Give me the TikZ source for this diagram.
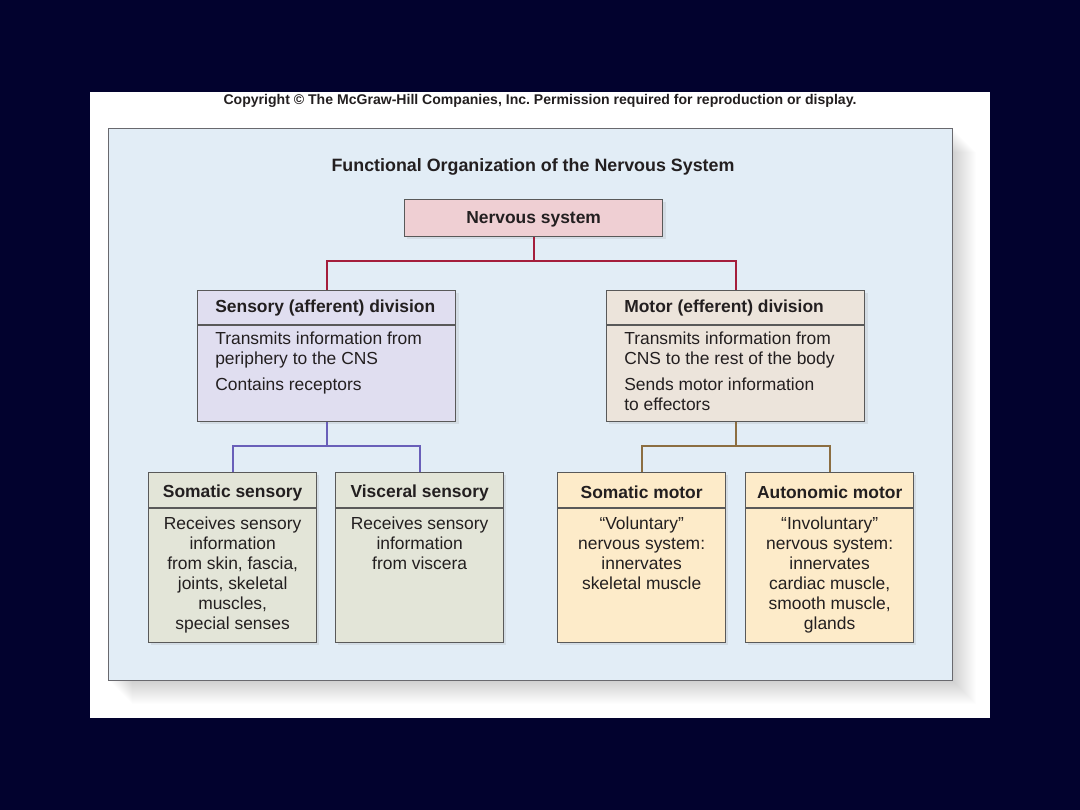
\documentclass[tikz,border=0pt]{standalone}
\usepackage{fontspec}
\setmainfont{Liberation Sans}
\usetikzlibrary{calc,positioning,shadows}
\definecolor{navybg}{RGB}{2,2,46}
\definecolor{panelblue}{RGB}{226,237,246}
\definecolor{framegray}{RGB}{105,105,110}
\definecolor{nervpink}{RGB}{239,207,211}
\definecolor{senslav}{RGB}{224,222,240}
\definecolor{motbeige}{RGB}{236,228,219}
\definecolor{sensgreen}{RGB}{227,229,216}
\definecolor{motcream}{RGB}{253,235,201}
\definecolor{linered}{RGB}{164,30,60}
\definecolor{lineblue}{RGB}{105,95,185}
\definecolor{linebrown}{RGB}{140,110,65}
\definecolor{inkgray}{RGB}{35,31,32}
\tikzset{
  caja/.style={
    rectangle,
    draw=black!65,
    line width=.9pt,
    anchor=north west,
    inner sep=0pt,
    drop shadow={shadow xshift=2pt, shadow yshift=-2pt, opacity=.15}
  },
  grande/.style={
    caja,
    minimum width=6.45cm,
    minimum height=3.275cm
  },
  chica/.style={
    caja,
    minimum width=4.2cm,
    minimum height=4.25cm
  },
  titulo/.style={
    font=\fontsize{12.4}{14.2}\selectfont\bfseries,
    text=inkgray,
    inner sep=0pt
  },
  texto/.style={
    font=\fontsize{12.4}{14.2}\selectfont,
    text=inkgray,
    inner sep=0pt
  },
  rama/.style={
    line width=1.2pt
  },
  separa/.style={
    draw=black!65,
    line width=.9pt
  }
}

\begin{document}
\begin{tikzpicture}[x=0.025cm,y=-0.025cm]
% fondo
\fill[navybg] (0,0) rectangle (1080,810);
\fill[white] (90,92) rectangle (990,718);
\node[font=\fontsize{10}{11}\selectfont\bfseries, text=inkgray, inner sep=0pt] (copy) at (540,100.5) {Copyright \textcopyright{} The McGraw-Hill Companies, Inc.\ Permission required for reproduction or display.};
% marco con sombra
\foreach \d in {1,...,24}
  \fill[black, opacity=.009] (108+\d,128+\d) rectangle (952+\d,680+\d);
\node[draw=framegray, fill=panelblue, line width=.9pt, anchor=north west, inner sep=0pt, minimum width=21.1cm, minimum height=13.8cm] (marco) at (108,128) {};
\node[titulo, font=\fontsize{12.7}{14.5}\selectfont\bfseries] (tit) at (533,167) {Functional Organization of the Nervous System};

% nivel 1
\node[caja, fill=nervpink, minimum width=6.45cm, minimum height=.925cm] (ns) at (404,199) {};
\node[titulo] (nst) at ($(ns.center)+(0,1)$) {Nervous system};

% nivel 2
\node[grande, fill=senslav] (sens) at (197,290) {};
\node[titulo, anchor=west] (sensh) at ($(sens.north west)+(18,18)$) {Sensory (afferent) division};
\draw[separa] ($(sens.north west)+(0,35)$) -- ($(sens.north east)+(0,35)$);
\node[texto, anchor=north west, align=left] (sensb) at ($(sens.north west)+(18,42)$) {Transmits information from\\periphery to the CNS\\[4.3pt]Contains receptors};

\node[grande, fill=motbeige] (mot) at (606,290) {};
\node[titulo, anchor=west] (moth) at ($(mot.north west)+(18,18)$) {Motor (efferent) division};
\draw[separa] ($(mot.north west)+(0,35)$) -- ($(mot.north east)+(0,35)$);
\node[texto, anchor=north west, align=left] (motb) at ($(mot.north west)+(18,42)$) {Transmits information from\\CNS to the rest of the body\\[4.3pt]Sends motor information\\to effectors};

% nivel 3
\node[chica, fill=sensgreen] (soms) at (148,472) {};
\node[chica, fill=sensgreen] (viss) at (335,472) {};
\node[chica, fill=motcream] (somm) at (557,472) {};
\node[chica, fill=motcream] (autm) at (745,472) {};
\foreach \b in {soms,viss,somm,autm}
  \draw[separa] ($(\b.north west)+(0,36)$) -- ($(\b.north east)+(0,36)$);
\node[titulo] (somsh) at ($(soms.north)+(0,20.5)$) {Somatic sensory};
\node[titulo] (vissh) at ($(viss.north)+(0,20.5)$) {Visceral sensory};
\node[titulo] (sommh) at ($(somm.north)+(0,20.5)$) {Somatic motor};
\node[titulo] (autmh) at ($(autm.north)+(0,20.5)$) {Autonomic motor};
\node[texto, anchor=north, align=center] (somsb) at ($(soms.north)+(0,45)$) {Receives sensory\\information\\from skin, fascia,\\joints, skeletal\\muscles,\\special senses};
\node[texto, anchor=north, align=center] (vissb) at ($(viss.north)+(0,45)$) {Receives sensory\\information\\from viscera};
\node[texto, anchor=north, align=center] (sommb) at ($(somm.north)+(0,45)$) {``Voluntary''\\nervous system:\\innervates\\skeletal muscle};
\node[texto, anchor=north, align=center] (autmb) at ($(autm.north)+(0,45)$) {``Involuntary''\\nervous system:\\innervates\\cardiac muscle,\\smooth muscle,\\glands};

% ramas
\coordinate (r1) at ($(ns.south)+(0,24)$);
\draw[rama, linered] (ns.south) -- (r1);
\draw[rama, linered] (sens.north) |- (r1) -| (mot.north);
\coordinate (r2) at ($(sens.south)+(0,24)$);
\draw[rama, lineblue] (sens.south) -- (r2);
\draw[rama, lineblue] (soms.north) |- (r2) -| (viss.north);
\coordinate (r3) at ($(mot.south)+(0,24)$);
\draw[rama, linebrown] (mot.south) -- (r3);
\draw[rama, linebrown] (somm.north) |- (r3) -| (autm.north);
\end{tikzpicture}
\end{document}
